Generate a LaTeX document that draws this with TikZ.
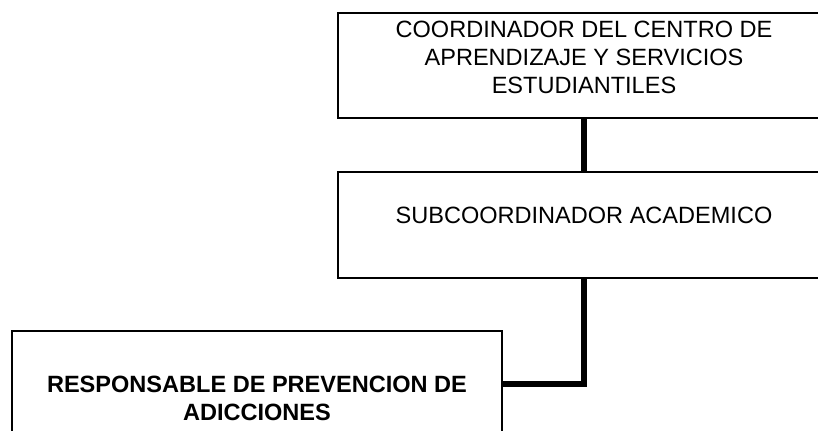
\documentclass[tikz,border=0pt]{standalone}
\usepackage{fontspec}
\setmainfont{Liberation Sans}
\usetikzlibrary{calc}

\begin{document}
\begin{tikzpicture}[x=0.02cm,y=0.02cm,
orgbox/.style={draw=black,line width=1.1pt,fill=white,inner sep=0pt,align=center,text=black,font=\fontsize{13.4}{15.9}\selectfont},
link/.style={draw=black,line width=3.1pt}]
\clip (0,0) rectangle (818,430);
\fill[white] (0,0) rectangle (818,430);
\node[orgbox,minimum width=9.84cm,minimum height=2.1cm,text height=1.46cm,text depth=0.34cm] (coord) at (584,364.5) {COORDINADOR DEL CENTRO DE\\APRENDIZAJE Y SERVICIOS\\ESTUDIANTILES};
\node[orgbox,minimum width=9.84cm,minimum height=2.12cm,text height=0.34cm,text depth=0.4cm] (subacad) at (584,205) {SUBCOORDINADOR ACADEMICO};
\node[orgbox,minimum width=9.8cm,minimum height=2.12cm,text height=1.66cm,text depth=0.2cm,font=\fontsize{13.4}{15.9}\selectfont\bfseries] (resp) at (257,46) {RESPONSABLE DE PREVENCION DE\\ADICCIONES};
\draw[link] (coord.south) -- (subacad.north);
\draw[link] (subacad.south) |- (resp.east);
\end{tikzpicture}
\end{document}
